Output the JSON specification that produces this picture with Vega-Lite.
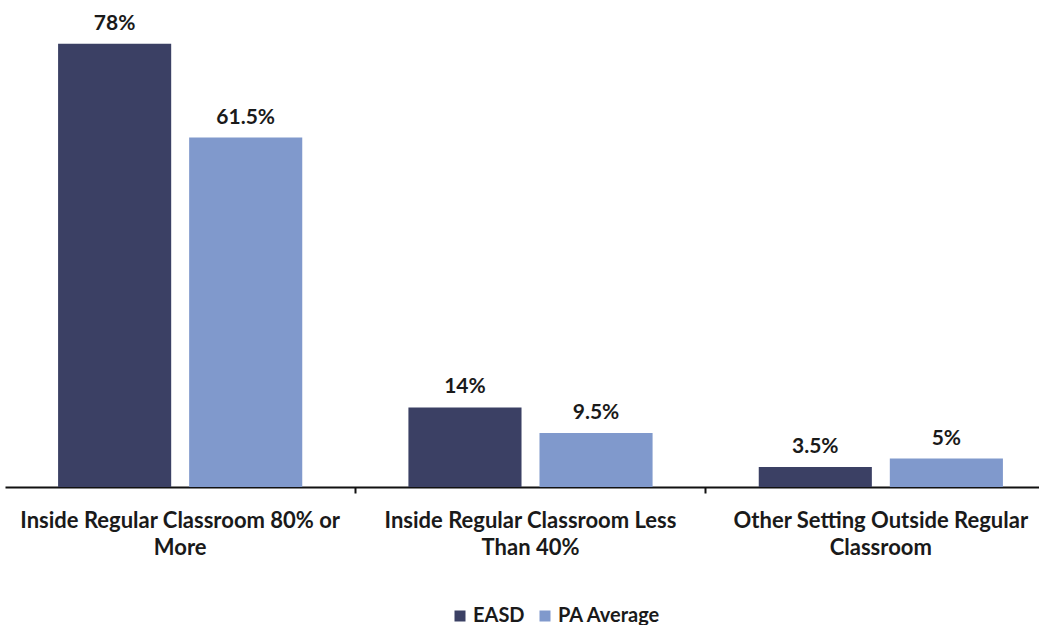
{
  "$schema": "https://vega.github.io/schema/vega-lite/v6.json",
  "width": 1034,
  "height": 487,
  "autosize": {"type": "none"},
  "padding": {"left": 5, "top": 0, "right": 0, "bottom": 138},
  "background": "white",
  "config": {"view": {"stroke": null}, "font": "Lato"},
  "data": {
    "values": [
      {"setting": "Inside Regular Classroom 80% or More", "group": "EASD", "value": 78},
      {"setting": "Inside Regular Classroom 80% or More", "group": "PA Average", "value": 61.5},
      {"setting": "Inside Regular Classroom Less Than 40%", "group": "EASD", "value": 14},
      {"setting": "Inside Regular Classroom Less Than 40%", "group": "PA Average", "value": 9.5},
      {"setting": "Other Setting Outside Regular Classroom", "group": "EASD", "value": 3.5},
      {"setting": "Other Setting Outside Regular Classroom", "group": "PA Average", "value": 5}
    ]
  },
  "encoding": {
    "x": {
      "field": "setting",
      "type": "nominal",
      "sort": null,
      "scale": {"paddingInner": 0, "paddingOuter": 0, "range": [0, 1051]},
      "axis": {
        "title": null,
        "bandPosition": 0,
        "domainColor": "#111111",
        "domainWidth": 2,
        "tickColor": "#111111",
        "tickWidth": 2,
        "tickSize": 6,
        "tickOpacity": {"condition": {"test": "datum.value == 'Inside Regular Classroom 80% or More'", "value": 0}, "value": 1},
        "labelAngle": 0,
        "labelFont": "Lato",
        "labelFontWeight": "bold",
        "labelFontSize": 22,
        "labelColor": "#1a1a1a",
        "labelPadding": 17,
        "labelLimit": 500,
        "labelLineHeight": 27,
        "labelBaseline": "top",
        "labelExpr": "datum.value == 'Inside Regular Classroom 80% or More' ? ['Inside Regular Classroom 80% or', 'More'] : datum.value == 'Inside Regular Classroom Less Than 40%' ? ['Inside Regular Classroom Less', 'Than 40%'] : ['Other Setting Outside Regular', 'Classroom']"
      }
    },
    "xOffset": {
      "field": "group",
      "type": "nominal",
      "sort": ["EASD", "PA Average"],
      "scale": {"paddingInner": 0.137, "paddingOuter": 0.405}
    },
    "y": {
      "field": "value",
      "type": "quantitative",
      "scale": {"domain": [0, 85.7], "nice": false, "zero": true},
      "axis": null
    }
  },
  "layer": [
    {
      "mark": {"type": "bar"},
      "encoding": {
        "color": {
          "field": "group",
          "type": "nominal",
          "sort": ["EASD", "PA Average"],
          "scale": {"domain": ["EASD", "PA Average"], "range": ["#3b4064", "#8099cc"]},
          "legend": {
            "title": null,
            "orient": "none",
            "direction": "horizontal",
            "legendX": 445,
            "legendY": 606,
            "symbolType": "square",
            "symbolSize": 121,
            "symbolStrokeWidth": 0,
            "labelFont": "Lato",
            "labelFontWeight": "bold",
            "labelFontSize": 20,
            "labelColor": "#1a1a1a",
            "labelOffset": 3,
            "columnPadding": 10
          }
        }
      }
    },
    {
      "mark": {
        "type": "text",
        "text": {"expr": "datum.value + '%'"},
        "font": "Lato",
        "fontWeight": "bold",
        "fontSize": 21,
        "color": "#1a1a1a",
        "baseline": "alphabetic",
        "dy": -14
      }
    }
  ]
}
